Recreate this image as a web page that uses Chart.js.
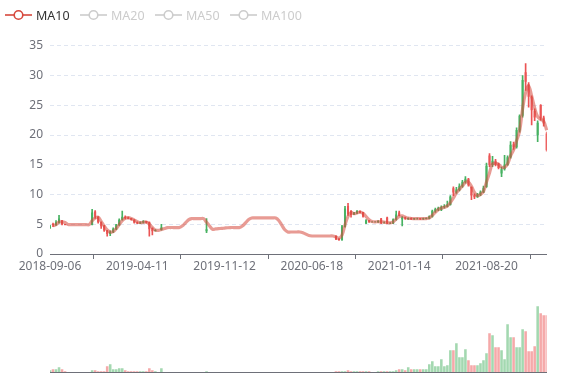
<!DOCTYPE html>
<html>
<head>
<meta charset="utf-8">
<script src="https://cdn.jsdelivr.net/npm/chart.js@4.4.0/dist/chart.umd.min.js"></script>
<style>
    html, body { margin: 0; padding: 0; background: #fff; }
    #wrap { position: relative; width: 577px; height: 380px; overflow: hidden; font-family: 'Noto Sans', sans-serif; }
    #price { position: absolute; left: 0; top: 0; }
    #volume { position: absolute; left: 0; top: 285px; }
    .legend-item { position: absolute; top: 6px; height: 18px; display: flex; align-items: center; font-size: 12.5px; }
    .legend-item svg { margin-right: 4px; }
</style>
</head>
<body>
<div id="wrap">
    <canvas id="price" width="577" height="285"></canvas>
    <canvas id="volume" width="577" height="95"></canvas>
    <div id="legend"></div>
</div>
<script>
// weekly samples, 2018-09-06 .. 2022-01
const startDate = '2018-09-06';
const tickIndex = [0, 29, 58, 87, 116, 145];
const tickLabels = ['2018-09-06', '2019-04-11', '2019-11-12', '2020-06-18', '2021-01-14', '2021-08-20'];

const legendNames = ['MA10', 'MA20', 'MA50', 'MA100'];
const legendActive = [true, false, false, false];

const openPrices = [
    4.4, 5.0, 4.9, 5.3, 5.6, 5.0, 4.95, 4.95, 4.95, 4.95,
    4.95, 4.95, 4.95, 4.95, 4.95, 7.1, 6.2, 5.3, 4.7, 3.9,
    3.4, 3.7, 4.2, 4.9, 5.8, 6.2, 6.1, 6.0, 5.7, 5.3,
    5.2, 5.3, 5.5, 5.3, 4.3, 3.9, 4.0, 4.1, 4.45, 4.45,
    4.45, 4.45, 4.45, 4.45, 5.3, 5.95, 5.95, 5.95, 5.95, 5.95,
    5.95, 5.95, 3.9, 4.1, 4.27, 4.27, 4.27, 4.35, 4.45, 4.45,
    4.45, 4.45, 4.45, 4.45, 5.3, 6.06, 6.06, 6.06, 6.06, 6.06,
    6.06, 6.06, 6.06, 6.06, 6.06, 6.06, 4.8, 3.7, 3.7, 3.7,
    3.7, 3.7, 3.7, 3.7, 3.3, 3.03, 3.03, 3.03, 3.03, 3.03,
    3.03, 3.03, 3.03, 3.03, 3.03, 3.03, 2.5, 2.4, 4.6, 8.0,
    7.2, 6.7, 6.9, 7.2, 7.0, 5.2, 5.6, 5.4, 5.4, 5.4,
    5.9, 5.3, 6.1, 5.2, 5.2, 5.8, 6.9, 5.9, 6.1, 5.9,
    6.0, 5.9, 5.95, 5.95, 5.9, 5.95, 6.0, 6.3, 7.2, 7.5,
    7.5, 7.9, 8.0, 8.3, 11.0, 10.4, 10.8, 11.4, 12.1, 12.6,
    11.2, 9.9, 9.6, 10.0, 10.4, 11.3, 16.5, 15.0, 15.6, 15.1,
    13.6, 14.3, 15.0, 16.3, 18.4, 18.0, 20.8, 23.3, 30.5, 28.5,
    26.4, 24.0, 20.0, 25.0, 22.9, 20.2
];
const closePrices = [
    4.6, 4.9, 5.3, 5.9, 5.0, 4.95, 4.95, 4.95, 4.95, 4.95,
    4.95, 4.95, 4.95, 4.95, 6.9, 6.3, 5.4, 4.7, 4.0, 3.4,
    3.7, 4.2, 4.9, 5.7, 6.2, 6.1, 6.0, 5.8, 5.3, 5.2,
    5.3, 5.5, 5.3, 4.2, 3.9, 4.0, 4.0, 4.4, 4.45, 4.45,
    4.45, 4.45, 4.45, 4.45, 5.3, 5.95, 5.95, 5.95, 5.95, 5.95,
    5.95, 5.95, 4.1, 4.1, 4.27, 4.27, 4.27, 4.35, 4.45, 4.45,
    4.45, 4.45, 4.45, 4.45, 5.3, 6.06, 6.06, 6.06, 6.06, 6.06,
    6.06, 6.06, 6.06, 6.06, 6.06, 6.06, 4.8, 3.7, 3.7, 3.7,
    3.7, 3.7, 3.7, 3.7, 3.3, 3.03, 3.03, 3.03, 3.03, 3.03,
    3.03, 3.03, 3.03, 3.03, 3.03, 2.5, 2.4, 4.6, 7.6, 6.8,
    6.6, 6.9, 7.2, 7.0, 6.3, 5.6, 5.4, 5.4, 5.4, 5.5,
    5.3, 5.3, 5.2, 5.2, 5.8, 6.6, 6.5, 6.1, 6.0, 6.0,
    5.9, 5.95, 5.95, 5.9, 5.95, 6.0, 6.3, 7.2, 7.5, 7.7,
    7.9, 8.0, 8.3, 9.6, 10.4, 10.8, 11.4, 12.1, 12.6, 11.6,
    9.9, 9.6, 10.0, 10.4, 11.1, 14.8, 15.0, 15.6, 15.1, 14.5,
    14.2, 15.0, 16.2, 18.3, 18.0, 20.8, 23.2, 29.2, 29.0, 26.5,
    24.2, 23.0, 22.0, 22.9, 22.0, 17.5
];
const lowPrices = [
    4.3, 4.6, 4.8, 5.2, 4.9, 4.9, 4.95, 4.95, 4.95, 4.95,
    4.95, 4.95, 4.95, 4.95, 4.9, 6.0, 5.2, 4.3, 3.8, 3.0,
    3.1, 3.6, 4.1, 4.8, 5.7, 5.9, 5.9, 5.7, 5.2, 5.1,
    5.1, 5.2, 5.2, 3.0, 3.2, 3.9, 4.0, 4.0, 4.45, 4.45,
    4.45, 4.45, 4.45, 4.45, 5.3, 5.95, 5.95, 5.95, 5.95, 5.95,
    5.95, 5.95, 3.6, 4.1, 4.27, 4.27, 4.27, 4.35, 4.45, 4.45,
    4.45, 4.45, 4.45, 4.45, 5.3, 6.06, 6.06, 6.06, 6.06, 6.06,
    6.06, 6.06, 6.06, 6.06, 6.06, 6.06, 4.8, 3.7, 3.7, 3.7,
    3.7, 3.7, 3.7, 3.7, 3.3, 3.03, 3.03, 3.03, 3.03, 3.03,
    3.03, 3.03, 3.03, 3.03, 3.03, 2.4, 2.3, 2.3, 4.5, 6.5,
    6.2, 6.6, 6.8, 6.9, 6.2, 5.1, 5.3, 5.35, 5.35, 5.3,
    5.1, 5.2, 5.1, 5.1, 5.1, 5.7, 6.4, 4.7, 5.8, 5.8,
    5.8, 5.8, 5.85, 5.8, 5.8, 5.9, 5.9, 6.2, 7.0, 7.3,
    7.3, 7.7, 7.9, 8.2, 9.8, 10.2, 10.6, 11.2, 11.9, 11.4,
    9.15, 9.3, 9.5, 9.8, 10.3, 11.2, 14.7, 14.7, 14.8, 14.3,
    13.0, 14.1, 14.9, 16.1, 17.6, 17.8, 20.5, 23.0, 27.5, 24.7,
    21.7, 22.4, 18.9, 22.5, 21.5, 17.3
];
const highPrices = [
    4.8, 5.2, 5.6, 6.5, 5.6, 5.0, 4.95, 4.95, 4.95, 4.95,
    4.95, 4.95, 4.95, 4.95, 7.5, 7.3, 6.3, 5.4, 4.8, 4.0,
    3.9, 4.4, 5.0, 5.9, 7.2, 6.4, 6.2, 6.0, 5.8, 5.4,
    5.4, 5.6, 5.5, 5.4, 4.4, 4.1, 4.0, 5.0, 4.45, 4.45,
    4.45, 4.45, 4.45, 4.45, 5.3, 5.95, 5.95, 5.95, 5.95, 5.95,
    5.95, 5.95, 5.95, 4.1, 4.27, 4.27, 4.27, 4.35, 4.45, 4.45,
    4.45, 4.45, 4.45, 4.45, 5.3, 6.06, 6.06, 6.06, 6.06, 6.06,
    6.06, 6.06, 6.06, 6.06, 6.06, 6.06, 4.8, 3.7, 3.7, 3.7,
    3.7, 3.7, 3.7, 3.7, 3.3, 3.03, 3.03, 3.03, 3.03, 3.03,
    3.03, 3.03, 3.03, 3.03, 3.03, 3.05, 2.6, 4.8, 8.0, 8.5,
    7.3, 7.0, 7.3, 7.2, 7.0, 5.8, 5.6, 5.45, 5.45, 5.6,
    6.0, 5.4, 6.2, 5.3, 5.9, 7.2, 7.2, 6.3, 6.2, 6.1,
    6.1, 6.0, 6.05, 6.0, 6.05, 6.1, 6.4, 7.4, 7.7, 7.9,
    8.1, 8.3, 8.9, 9.8, 11.3, 11.2, 11.8, 12.4, 13.0, 12.7,
    11.3, 10.1, 10.2, 10.6, 11.4, 15.3, 16.9, 16.4, 15.9, 15.3,
    14.6, 16.6, 16.5, 18.9, 18.8, 21.2, 23.4, 30.0, 32.0, 28.8,
    26.6, 24.4, 22.4, 25.1, 23.2, 20.5
];
const volumes = [
    2, 3, 3, 5, 3, 1, 0, 0, 0, 0,
    0, 0, 0, 0, 2, 2, 1, 1, 1, 6,
    8, 3, 3, 4, 4, 2, 1, 1, 1, 1,
    1, 1, 1, 4, 2, 1, 0, 4, 0, 0,
    0, 0, 0, 0, 0, 0, 0, 0, 0, 0,
    0, 0, 1, 0, 0, 0, 0, 0, 0, 0,
    0, 0, 0, 0, 0, 0, 0, 0, 0, 0,
    0, 0, 0, 0, 0, 0, 0, 0, 0, 0,
    0, 0, 0, 0, 0, 0, 0, 0, 0, 0,
    0, 0, 0, 0, 0, 1, 1, 1, 1, 2,
    1, 1, 1, 1, 1, 1, 1, 0, 0, 1,
    1, 1, 1, 1, 1, 2, 3, 3, 2, 5,
    3, 3, 3, 3, 3, 3, 8, 11, 6, 6,
    13, 6, 7, 22, 22, 29, 15, 15, 23, 12,
    7, 7, 7, 9, 12, 19, 39, 37, 25, 25,
    22, 13, 48, 35, 35, 25, 25, 43, 41, 21,
    21, 26, 66, 59, 57, 57
];

const upColor = '#47b262';
const downColor = '#eb5454';
const maColor = '#d6483d';
const axisColor = '#6e7079';
const fontFamily = "'Noto Sans', sans-serif";

// category labels: one per week
const categories = openPrices.map((_, i) => {
    const d = new Date(startDate + 'T00:00:00Z');
    d.setUTCDate(d.getUTCDate() + i * 7);
    return d.toISOString().slice(0, 10);
});

// 10-day average on weekly closes: 3 samples gives about the same lag
const maWindow = 3;
const ma10 = closePrices.map((c, i) => {
    if (i < 1) return null;
    const from = Math.max(0, i - maWindow + 1);
    let sum = 0;
    for (let k = from; k <= i; k++) sum += closePrices[k];
    return +(sum / (i - from + 1)).toFixed(3);
});

const isUp = i => closePrices[i] >= openPrices[i];
const candleColors = openPrices.map((_, i) => isUp(i) ? upColor : downColor);
const volumeColors = openPrices.map((_, i) => isUp(i) ? 'rgba(71,178,98,0.5)' : 'rgba(235,84,84,0.5)');

// flat (suspended) weeks draw no candle
const bodies = openPrices.map((o, i) => o === closePrices[i] ? null : [o, closePrices[i]]);
const wicks = lowPrices.map((l, i) => l === highPrices[i] ? null : [l, highPrices[i]]);

// legend
document.getElementById('legend').innerHTML = legendNames.map((name, i) => {
    const c = legendActive[i] ? maColor : '#ccc';
    const t = legendActive[i] ? '#333' : '#ccc';
    return `<div class="legend-item" style="left:${5 + i * 75}px;color:${t}">
        <svg width="27" height="12"><line x1="0" y1="6" x2="27" y2="6" stroke="${c}" stroke-width="1.6"/>
        <circle cx="13.5" cy="6" r="4.3" fill="#fff" stroke="${c}" stroke-width="1.6"/></svg>
        <span>${name}</span></div>`;
}).join('');

const xTicks = {
    afterBuildTicks: scale => { scale.ticks = tickIndex.map(v => ({ value: v })); }
};

new Chart(document.getElementById('price'), {
    type: 'bar',
    data: {
        labels: categories,
        datasets: [
            {
                type: 'line',
                label: 'MA10',
                data: ma10,
                borderColor: 'rgba(214,72,61,0.55)',
                borderWidth: 3.2,
                pointRadius: 0,
                tension: 0.4,
                order: 0
            },
            {
                label: 'body',
                data: bodies,
                backgroundColor: candleColors,
                barThickness: 1.4,
                grouped: false,
                order: 1
            },
            {
                label: 'wick',
                data: wicks,
                backgroundColor: candleColors,
                barThickness: 1,
                grouped: false,
                order: 2
            }
        ]
    },
    options: {
        responsive: false,
        animation: false,
        layout: { padding: { left: 0, right: 30.3, top: 45.8, bottom: 0 } },
        plugins: { legend: { display: false }, tooltip: { enabled: false } },
        scales: {
            x: {
                type: 'category',
                offset: false,
                ...xTicks,
                afterFit: scale => { scale.height = 31; },
                grid: { drawOnChartArea: false, drawTicks: true, tickLength: 5, color: axisColor },
                border: { color: axisColor },
                ticks: {
                    autoSkip: false,
                    maxRotation: 0,
                    padding: 0,
                    color: axisColor,
                    font: { size: 12, family: fontFamily },
                    callback: v => tickLabels[tickIndex.indexOf(v)]
                }
            },
            y: {
                min: 0,
                max: 35,
                afterFit: scale => { scale.width = 50; },
                grid: {
                    drawTicks: false,
                    color: ctx => ctx.tick && ctx.tick.value === 0 ? 'rgba(0,0,0,0)' : '#e0e6f1'
                },
                border: { display: false, dash: [4, 3] },
                ticks: {
                    stepSize: 5,
                    padding: 7,
                    color: axisColor,
                    font: { size: 12, family: fontFamily }
                }
            }
        }
    }
});

new Chart(document.getElementById('volume'), {
    type: 'bar',
    data: {
        labels: categories,
        datasets: [{
            label: 'Volume',
            data: volumes,
            backgroundColor: volumeColors,
            barPercentage: 0.85,
            categoryPercentage: 1
        }]
    },
    options: {
        responsive: false,
        animation: false,
        layout: { padding: { left: 50, right: 30.3, top: 7.3, bottom: 0 } },
        plugins: { legend: { display: false }, tooltip: { enabled: false } },
        scales: {
            x: {
                type: 'category',
                offset: false,
                ...xTicks,
                afterFit: scale => { scale.height = 7.7; },
                grid: { display: false, drawTicks: false },
                border: { color: axisColor },
                ticks: { display: false }
            },
            y: { display: false, min: 0, max: 80 }
        }
    }
});
</script>
</body>
</html>
